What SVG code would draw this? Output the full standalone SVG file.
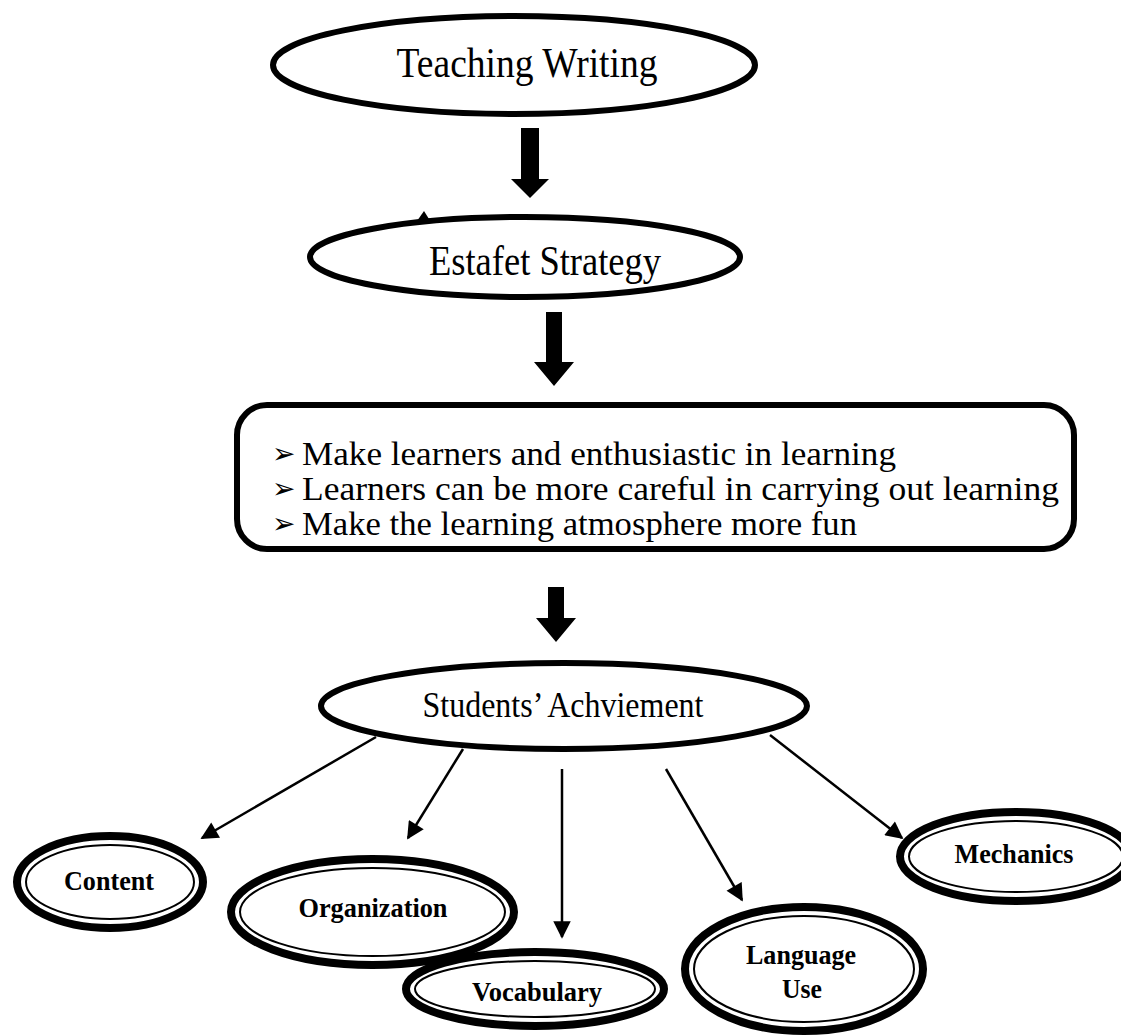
<svg xmlns="http://www.w3.org/2000/svg" width="1121" height="1036" viewBox="0 0 1121 1036">
<defs>
<style>
.main{fill:#fff;stroke:#000;stroke-width:6}
.outer{fill:#fff;stroke:#000;stroke-width:8}
.inner{fill:none;stroke:#000;stroke-width:2}
.serif{font-family:"Liberation Serif","Times New Roman",serif;fill:#000}
.big{font-size:42px;text-anchor:middle}
.lbl{font-size:28px;font-weight:bold;text-anchor:middle}
.bul{font-size:34px}
.mark{font-family:"DejaVu Sans",sans-serif;font-size:28px;fill:#000}
.conn{stroke:#000;stroke-width:2.5;fill:none}
.block{fill:#000}
</style>
<marker id="ah" viewBox="0 0 10 10" refX="9" refY="5" markerWidth="7.5" markerHeight="7" markerUnits="strokeWidth" orient="auto">
<path d="M0,0 L10,5 L0,10 z" fill="#000"/>
</marker>
</defs>
<rect width="1121" height="1036" fill="#fff"/>

<g id="connectors">
<polygon class="block" points="521,128 539,128 539,179 549,179 530,198 511,179 521,179"/>
<polygon class="block" points="546,312 562,312 562,362 574,362 554,386 534,362 546,362"/>
<polygon class="block" points="548,587 564,587 564,618 576,618 556,642 536,618 548,618"/>
<line class="conn" x1="376" y1="737" x2="202" y2="838" marker-end="url(#ah)"/>
<line class="conn" x1="463" y1="749" x2="408" y2="838" marker-end="url(#ah)"/>
<line class="conn" x1="562" y1="769" x2="562" y2="937" marker-end="url(#ah)"/>
<line class="conn" x1="666" y1="769" x2="742" y2="900" marker-end="url(#ah)"/>
<line class="conn" x1="770" y1="735" x2="902" y2="838" marker-end="url(#ah)"/>
</g>

<g id="teaching-writing">
<ellipse class="main" cx="514" cy="65" rx="241" ry="49"/>
<text class="serif big" x="527" y="77" textLength="261" lengthAdjust="spacingAndGlyphs">Teaching Writing</text>
</g>

<g id="estafet-strategy">
<ellipse class="main" cx="525" cy="257" rx="215" ry="40"/>
<polygon class="block" points="417,221 424,211 429,219"/>
<text class="serif big" x="545" y="275" textLength="232" lengthAdjust="spacingAndGlyphs">Estafet Strategy</text>
</g>

<g id="benefits">
<rect class="main" x="237" y="405" width="837" height="144" rx="30" ry="30"/>
<text class="mark" x="272" y="463">➢</text>
<text class="mark" x="272" y="498">➢</text>
<text class="mark" x="272" y="533">➢</text>
<text class="serif bul" x="302" y="465" textLength="594" lengthAdjust="spacingAndGlyphs">Make learners and enthusiastic in learning</text>
<text class="serif bul" x="302" y="500" textLength="757" lengthAdjust="spacingAndGlyphs">Learners can be more careful in carrying out learning</text>
<text class="serif bul" x="302" y="535" textLength="555" lengthAdjust="spacingAndGlyphs">Make the learning atmosphere more fun</text>
</g>

<g id="students-achievement">
<ellipse class="main" cx="564" cy="706" rx="243" ry="43"/>
<text class="serif" style="font-size:36px;text-anchor:middle" x="563" y="717" textLength="281" lengthAdjust="spacingAndGlyphs">Students’ Achviement</text>
</g>

<g id="content">
<ellipse class="outer" cx="110" cy="882" rx="93" ry="46"/>
<ellipse class="inner" cx="110" cy="882" rx="84" ry="37"/>
<text class="serif lbl" x="109" y="890" textLength="90" lengthAdjust="spacingAndGlyphs">Content</text>
</g>

<g id="organization">
<ellipse class="outer" cx="372.5" cy="912" rx="141.5" ry="53"/>
<ellipse class="inner" cx="372.5" cy="912" rx="132.5" ry="44"/>
<text class="serif lbl" x="373" y="917" textLength="149" lengthAdjust="spacingAndGlyphs">Organization</text>
</g>

<g id="vocabulary">
<ellipse class="outer" cx="535" cy="989" rx="129" ry="37"/>
<ellipse class="inner" cx="535" cy="989" rx="120" ry="28"/>
<text class="serif lbl" x="537" y="1001" textLength="130" lengthAdjust="spacingAndGlyphs">Vocabulary</text>
</g>

<g id="language-use">
<ellipse class="outer" cx="804" cy="969" rx="119" ry="62"/>
<ellipse class="inner" cx="804" cy="969" rx="110" ry="53"/>
<text class="serif lbl" x="801" y="964" textLength="110" lengthAdjust="spacingAndGlyphs">Language</text>
<text class="serif lbl" x="802" y="998" textLength="40" lengthAdjust="spacingAndGlyphs">Use</text>
</g>

<g id="mechanics">
<ellipse class="outer" cx="1016" cy="856.5" rx="116" ry="44.5"/>
<ellipse class="inner" cx="1016" cy="856.5" rx="107" ry="35.5"/>
<text class="serif lbl" x="1014" y="863" textLength="119" lengthAdjust="spacingAndGlyphs">Mechanics</text>
</g>
</svg>
